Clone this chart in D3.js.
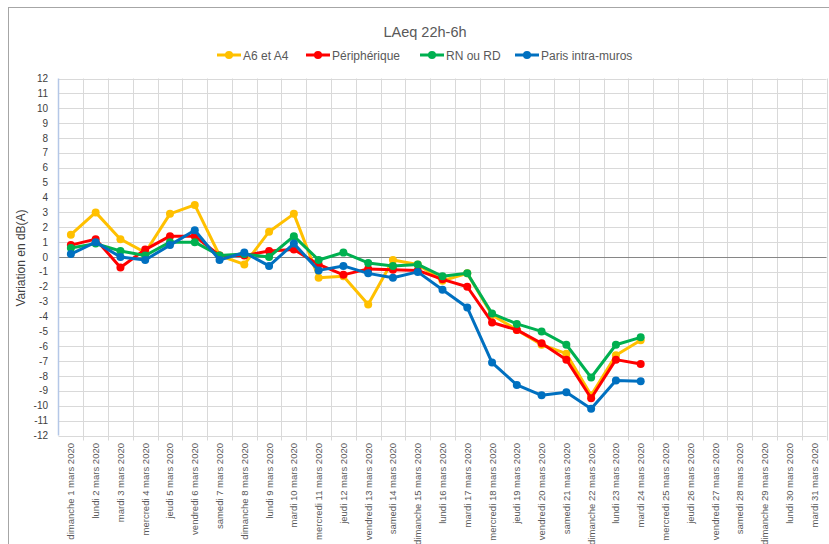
<!DOCTYPE html>
<html lang="fr">

<head>
    <title>LAeq 22h-6h</title>
    <script src="https://d3js.org/d3.v7.min.js"></script>
    <style>
        body {
            margin: 0;
            background: #fff;
        }

        text {
            font-family: "Liberation Sans", Arial, sans-serif;
            fill: #595959;
        }

        .grid line {
            stroke: #d9d9d9;
            stroke-width: 1px;
        }
    </style>
</head>

<body>
<svg id="target" width="829" height="544"></svg>
<script type="text/javascript">
    // categories (x axis)
    const days = [
        "dimanche 1 mars 2020", "lundi 2 mars 2020", "mardi 3 mars 2020", "mercredi 4 mars 2020",
        "jeudi 5 mars 2020", "vendredi 6 mars 2020", "samedi 7 mars 2020", "dimanche 8 mars 2020",
        "lundi 9 mars 2020", "mardi 10 mars 2020", "mercredi 11 mars 2020", "jeudi 12 mars 2020",
        "vendredi 13 mars 2020", "samedi 14 mars 2020", "dimanche 15 mars 2020", "lundi 16 mars 2020",
        "mardi 17 mars 2020", "mercredi 18 mars 2020", "jeudi 19 mars 2020", "vendredi 20 mars 2020",
        "samedi 21 mars 2020", "dimanche 22 mars 2020", "lundi 23 mars 2020", "mardi 24 mars 2020",
        "mercredi 25 mars 2020", "jeudi 26 mars 2020", "vendredi 27 mars 2020", "samedi 28 mars 2020",
        "dimanche 29 mars 2020", "lundi 30 mars 2020", "mardi 31 mars 2020"
    ];

    // series values, dB(A)
    const a6a4 = [1.5, 3.0, 1.2, 0.3, 2.9, 3.5, 0.1, -0.5, 1.7, 2.9, -1.4, -1.3,
        -3.2, -0.2, -0.5, -1.6, -1.1, -3.9, -4.9, -5.9, -6.5, -9.3, -6.6, -5.6];
    const peripherique = [0.8, 1.2, -0.7, 0.5, 1.4, 1.4, 0.1, 0.1, 0.4, 0.5, -0.5, -1.2,
        -0.8, -0.85, -0.9, -1.5, -2.0, -4.4, -4.9, -5.8, -6.9, -9.5, -6.9, -7.2];
    const rnRd = [0.6, 0.9, 0.4, 0.1, 1.0, 1.0, 0.1, 0.2, 0.0, 1.4, -0.2, 0.3,
        -0.4, -0.6, -0.5, -1.3, -1.1, -3.8, -4.5, -5.0, -5.9, -8.1, -5.9, -5.4];
    const paris = [0.2, 1.0, 0.0, -0.2, 0.8, 1.8, -0.2, 0.3, -0.6, 0.9, -0.9, -0.6,
        -1.1, -1.4, -1.0, -2.2, -3.4, -7.1, -8.6, -9.3, -9.1, -10.2, -8.3, -8.35];

    const seriesNames = ["A6 et A4", "Périphérique", "RN ou RD", "Paris intra-muros"];
    const yTicks = d3.range(-12, 13, 1);

    const series = [
        {name: seriesNames[0], values: a6a4, color: "#FFC000"},
        {name: seriesNames[1], values: peripherique, color: "#FF0000"},
        {name: seriesNames[2], values: rnRd, color: "#00B050"},
        {name: seriesNames[3], values: paris, color: "#0070C0"}
    ];

    const svg = d3.select('#target');

    // chart border
    svg.append('rect')
        .attr('x', 8.5).attr('y', 7.5)
        .attr('width', 840).attr('height', 560)
        .attr('fill', 'none')
        .attr('stroke', '#a6a6a6');

    const plotLeft = 58.5, plotRight = 826.5, plotTop = 78.5, plotBottom = 435.5;

    const x = d3.scaleBand().domain(days).range([plotLeft, plotRight]);
    const y = d3.scaleLinear().domain([-12, 12]).range([plotBottom, plotTop]);

    // horizontal grid
    svg.append('g').attr('class', 'grid')
        .selectAll('line')
        .data(yTicks)
        .join('line')
        .attr('x1', plotLeft).attr('x2', plotRight)
        .attr('y1', d => Math.round(y(d)) + 0.5)
        .attr('y2', d => Math.round(y(d)) + 0.5);

    // vertical grid at category boundaries
    svg.append('g').attr('class', 'grid')
        .selectAll('line')
        .data(days)
        .join('line')
        .attr('x1', d => Math.round(x(d) + x.bandwidth()) + 0.5)
        .attr('x2', d => Math.round(x(d) + x.bandwidth()) + 0.5)
        .attr('y1', plotTop)
        .attr('y2', plotBottom + 5);

    // zero line
    svg.append('line')
        .attr('x1', plotLeft).attr('x2', plotRight)
        .attr('y1', Math.round(y(0)) + 0.5).attr('y2', Math.round(y(0)) + 0.5)
        .attr('stroke', '#868686');

    // y axis line
    svg.append('line')
        .attr('x1', plotLeft).attr('x2', plotLeft)
        .attr('y1', plotTop).attr('y2', plotBottom)
        .attr('stroke', '#b4c7e7')
        .attr('stroke-width', 1.5);

    // y tick labels
    svg.append('g')
        .selectAll('text')
        .data(yTicks)
        .join('text')
        .attr('x', 48)
        .attr('y', d => y(d) + 3.5)
        .attr('text-anchor', 'end')
        .attr('font-size', '10px')
        .style('fill', '#404040')
        .text(d => d);

    // x tick labels
    svg.append('g')
        .selectAll('text')
        .data(days)
        .join('text')
        .attr('transform', d => 'translate(' + (x(d) + x.bandwidth() / 2 + 3.5) + ',443) rotate(-90)')
        .attr('text-anchor', 'end')
        .attr('font-size', '9.5px')
        .text(d => d);

    // y axis title
    svg.append('text')
        .attr('transform', 'translate(25,258) rotate(-90)')
        .attr('text-anchor', 'middle')
        .attr('font-size', '12px')
        .style('fill', '#404040')
        .text('Variation en dB(A)');

    // title
    svg.append('text')
        .attr('x', 425).attr('y', 37)
        .attr('text-anchor', 'middle')
        .attr('font-size', '14.5px')
        .text('LAeq 22h-6h');

    // lines + markers
    const line = d3.line()
        .x((d, i) => x(days[i]) + x.bandwidth() / 2)
        .y(d => y(d));

    series.forEach(s => {
        const g = svg.append('g');
        g.append('path')
            .attr('d', line(s.values))
            .attr('fill', 'none')
            .attr('stroke', s.color)
            .attr('stroke-width', 3)
            .attr('stroke-linejoin', 'round');
        g.selectAll('circle')
            .data(s.values)
            .join('circle')
            .attr('cx', (d, i) => x(days[i]) + x.bandwidth() / 2)
            .attr('cy', d => y(d))
            .attr('r', 4)
            .attr('fill', s.color);
    });

    // legend
    const legendX = [217, 306, 420, 515];
    const legend = svg.append('g')
        .selectAll('g')
        .data(series)
        .join('g')
        .attr('transform', (d, i) => 'translate(' + legendX[i] + ',55)');
    legend.append('line')
        .attr('x1', 0).attr('x2', 24)
        .attr('stroke', d => d.color)
        .attr('stroke-width', 3);
    legend.append('circle')
        .attr('cx', 12).attr('r', 4)
        .attr('fill', d => d.color);
    legend.append('text')
        .attr('x', 26).attr('y', 4.5)
        .attr('font-size', '12px')
        .text(d => d.name);
</script>
</body>
</html>
